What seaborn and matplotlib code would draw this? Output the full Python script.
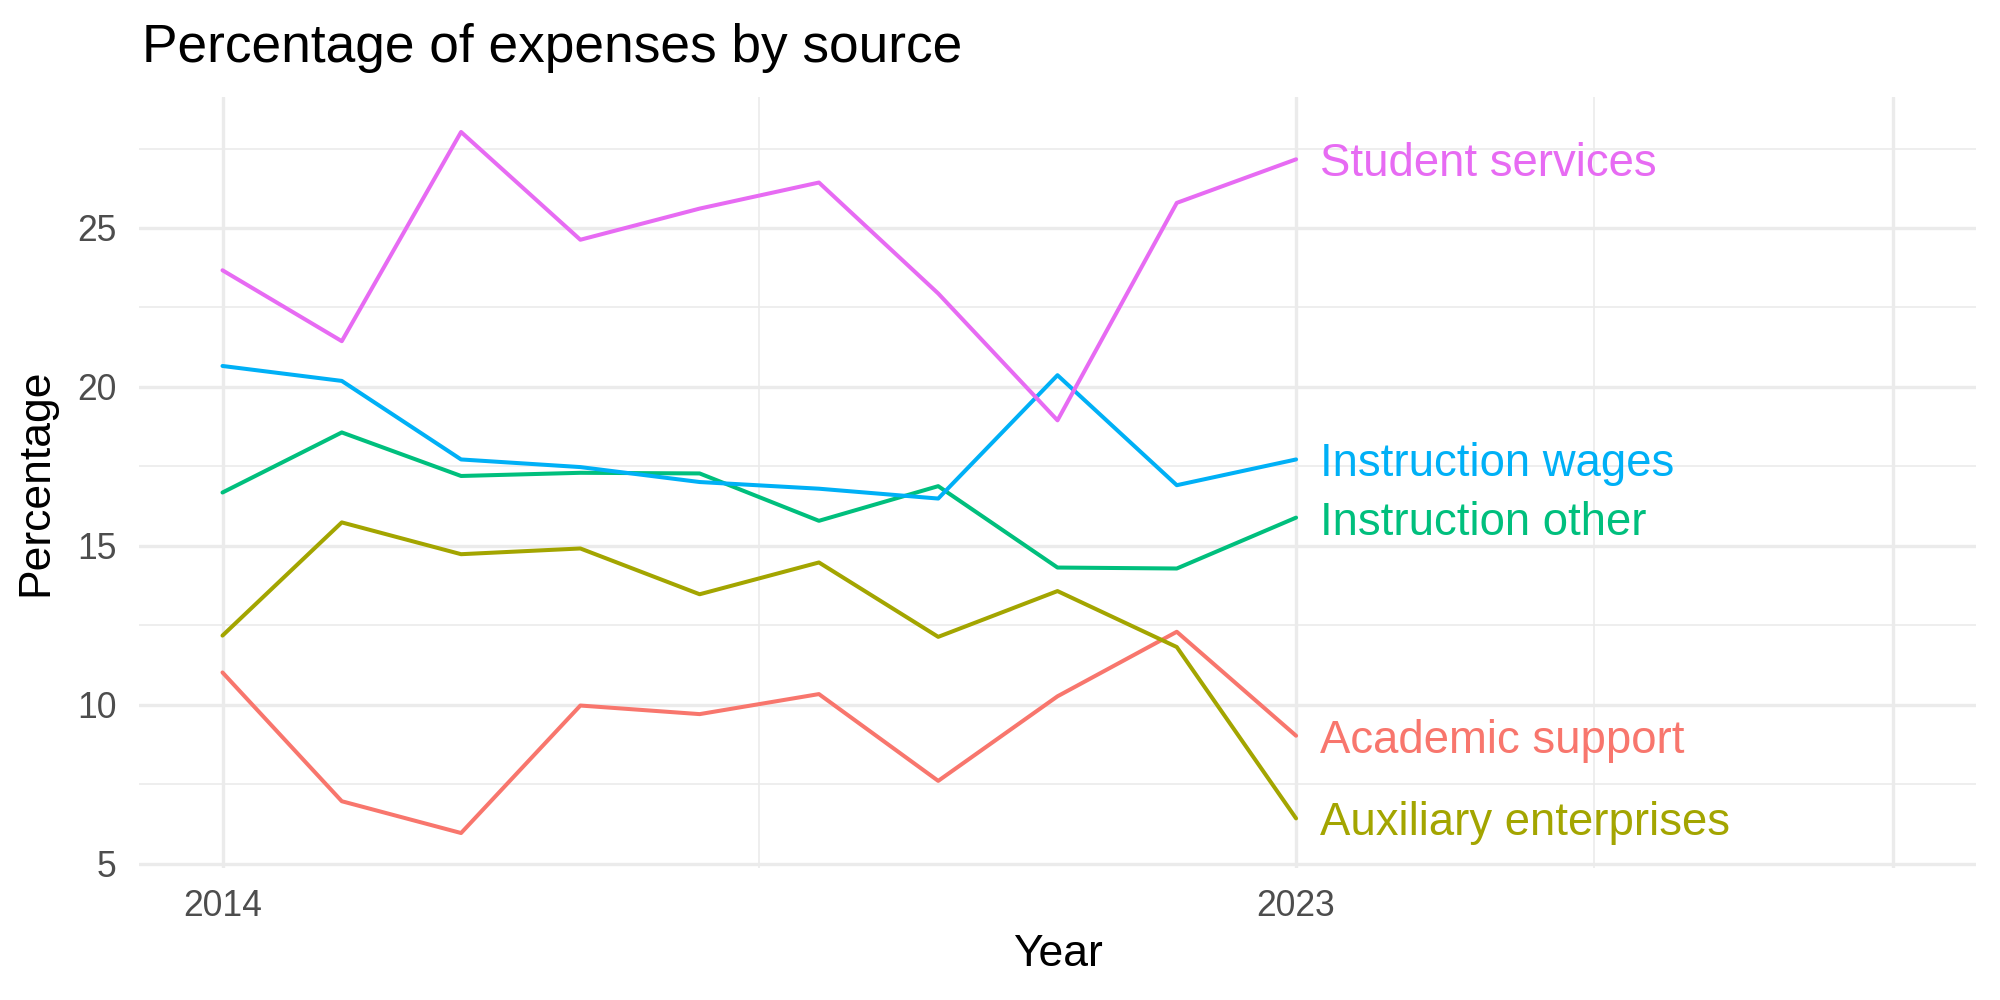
import matplotlib
matplotlib.use("Agg")
import matplotlib.pyplot as plt
import seaborn as sns
import pandas as pd

# values
years = [2014, 2015, 2016, 2017, 2018, 2019, 2020, 2021, 2022, 2023]
academic_support = [11.02, 6.97, 5.97, 9.98, 9.71, 10.34, 7.61, 10.27, 12.30, 9.03]
auxiliary_enterprises = [12.18, 15.74, 14.74, 14.92, 13.48, 14.48, 12.14, 13.58, 11.82, 6.43]
instruction_other = [16.68, 18.57, 17.20, 17.30, 17.28, 15.79, 16.88, 14.32, 14.29, 15.89]
instruction_wages = [20.66, 20.19, 17.72, 17.48, 17.01, 16.80, 16.49, 20.37, 16.91, 17.72]
student_services = [23.67, 21.44, 28.02, 24.63, 25.61, 26.43, 22.94, 18.95, 25.79, 27.16]

sources = ["Academic support", "Auxiliary enterprises", "Instruction other",
           "Instruction wages", "Student services"]
series = [academic_support, auxiliary_enterprises, instruction_other,
          instruction_wages, student_services]
colors = ["#F8766D", "#A3A500", "#00BF7D", "#00B0F6", "#E76BF3"]

x_breaks = [2014, 2023, 2028]
x_labels = ["2014", "2023", ""]
y_breaks = [5, 10, 15, 20, 25]

rows = []
for src, vals in zip(sources, series):
    for yr, v in zip(years, vals):
        rows.append({"Year": yr, "Percentage": v, "Source": src})
df = pd.DataFrame(rows)

sns.set_theme(style="white")
plt.rcParams['font.family'] = ['Liberation Sans', 'DejaVu Sans']

fig = plt.figure(figsize=(10, 5), dpi=200)
ax = fig.add_axes([0.0695, 0.132, 0.9185, 0.771])

sns.lineplot(data=df, x="Year", y="Percentage", hue="Source",
             palette=dict(zip(sources, colors)), linewidth=1.45,
             errorbar=None, legend=False, ax=ax)

# end-of-line labels
for src, vals, c in zip(sources, series, colors):
    ax.text(years[-1] + 0.2, vals[-1], src, color=c, fontsize=16.4,
            ha="left", va="center_baseline")

ax.set_xlim(2013.3, 2028.7)
ax.set_ylim(4.87, 29.12)
ax.set_xticks(x_breaks)
ax.set_xticklabels(x_labels)
ax.set_xticks([2018.5, 2025.5], minor=True)
ax.set_yticks(y_breaks)
ax.set_yticks([7.5, 12.5, 17.5, 22.5, 27.5], minor=True)
ax.grid(which="major", color="#EBEBEB", linewidth=1.2)
ax.grid(which="minor", color="#EBEBEB", linewidth=0.6)
ax.set_axisbelow(True)
for s in ax.spines.values():
    s.set_visible(False)
ax.tick_params(which="both", length=0)
ax.tick_params(axis="y", labelsize=12.8, labelcolor="#4D4D4D", pad=8)
ax.tick_params(axis="x", labelsize=12.8, labelcolor="#4D4D4D", pad=7.4)

ax.set_xlabel("Year", fontsize=16, color="black", va="center")
ax.set_ylabel("Percentage", fontsize=16, color="black", va="center")
ax.xaxis.set_label_coords(0.5, -0.112)
ax.yaxis.set_label_coords(-0.0561, 0.5)

fig.text(0.0708, 1 - 0.0623, "Percentage of expenses by source",
         fontsize=19.2, color="black", ha="left", va="baseline")

fig.savefig("out.png", dpi=200, facecolor="white")
